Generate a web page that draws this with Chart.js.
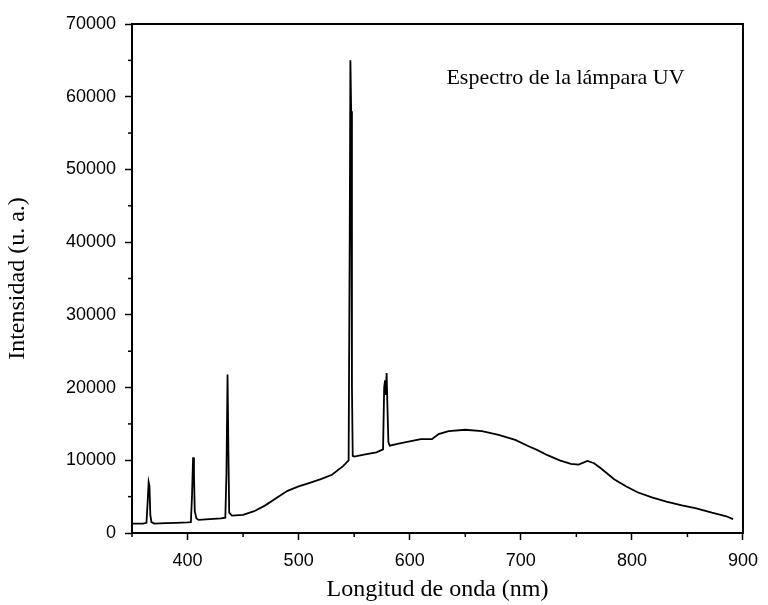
<!DOCTYPE html>
<html>
<head>
<meta charset="utf-8">
<script src="https://cdn.jsdelivr.net/npm/chart.js@4/dist/chart.umd.min.js"></script>
<style>
  html, body { margin: 0; padding: 0; background: #fff; }
  #wrap { width: 768px; height: 605px; }
</style>
</head>
<body>
<div id="wrap"><canvas id="grafico"></canvas></div>
<script>
// Datos del espectro
const longitudes = [
  350, 355, 360, 363, 364, 365, 365.7, 366.5, 367.5, 370, 380, 390, 400, 403,
  404, 405, 405.8, 406.5, 408, 410, 420, 430, 434, 435, 436, 436.8, 437.5, 440,
  450, 460, 470, 480, 490, 500, 510, 520, 530, 540, 545, 546, 546.6, 547.3, 548,
  548.7, 550, 560, 570, 576, 577, 577.8, 578.5, 579.2, 580, 580.8, 582, 590, 600,
  610, 620, 626, 635, 650, 665, 680, 695, 706, 715, 724, 735, 745, 752, 760, 766,
  772, 784, 795, 805, 818, 831, 845, 858, 872, 885, 891
];
const intensidades = [
  1300, 1300, 1300, 1400, 4000, 7000, 6500, 2500, 1500, 1300, 1350, 1400, 1450, 1500,
  5000, 10400, 8000, 3000, 2000, 1800, 1900, 2000, 2100, 8000, 21800, 11000, 2800, 2400,
  2500, 3000, 3800, 4800, 5800, 6400, 6900, 7400, 8000, 9200, 10000, 41000, 65000, 58000, 20000,
  10600, 10500, 10800, 11100, 11500, 20000, 21000, 19000, 22000, 17000, 12500, 12000, 12300, 12600,
  12900, 12900, 13600, 14000, 14200, 14000, 13500, 12800, 12000, 11400, 10700, 10000, 9500, 9400, 9900, 9600,
  8900, 7400, 6400, 5600, 4900, 4300, 3800, 3400, 2800, 2300, 1900
];

const etiquetaX = 'Longitud de onda (nm)';
const etiquetaY = 'Intensidad (u. a.)';
const textoNota = 'Espectro de la lámpara UV';
const notaX = 633;
const notaY = 62500;

const puntos = longitudes.map((x, i) => ({ x: x, y: intensidades[i] }));

// Marco, ticks menores y nota
const plugMarco = {
  id: 'marco',
  afterDraw(chart) {
    const c = chart.ctx;
    const a = chart.chartArea;
    c.save();
    c.strokeStyle = '#000';
    c.lineWidth = 2;
    c.strokeRect(a.left, a.top, a.right - a.left, a.bottom - a.top);

    // ticks menores
    c.lineWidth = 1.5;
    const sx = chart.scales.x;
    sx.ticks.forEach(t => {
      if (t.value % 100 !== 0) {
        const px = sx.getPixelForValue(t.value);
        c.beginPath();
        c.moveTo(px, a.bottom);
        c.lineTo(px, a.bottom + 4);
        c.stroke();
      }
    });
    const sy = chart.scales.y;
    sy.ticks.forEach(t => {
      if (t.value % 10000 !== 0) {
        const py = sy.getPixelForValue(t.value);
        c.beginPath();
        c.moveTo(a.left, py);
        c.lineTo(a.left - 4, py);
        c.stroke();
      }
    });

    // nota
    c.fillStyle = '#000';
    c.font = '22px "Liberation Serif", "DejaVu Serif", serif';
    c.textAlign = 'left';
    c.textBaseline = 'middle';
    c.fillText(textoNota, sx.getPixelForValue(notaX), sy.getPixelForValue(notaY));
    c.restore();
  }
};

new Chart(document.getElementById('grafico'), {
  type: 'line',
  data: {
    datasets: [{
      data: puntos,
      borderColor: '#000',
      borderWidth: 1.8,
      pointRadius: 0,
      tension: 0,
      fill: false
    }]
  },
  options: {
    responsive: true,
    maintainAspectRatio: false,
    animation: false,
    layout: { padding: { top: 24, right: 19, left: 0, bottom: 0 } },
    plugins: {
      legend: { display: false },
      tooltip: { enabled: false }
    },
    scales: {
      x: {
        type: 'linear',
        min: 350,
        max: 900,
        afterFit: s => { s.height = 72; },
        border: { display: true, color: '#000', width: 2 },
        grid: {
          drawOnChartArea: false,
          tickLength: 7,
          tickWidth: 1.5,
          color: ctx => (ctx.tick && ctx.tick.value % 100 === 0) ? '#000' : 'rgba(0,0,0,0)'
        },
        ticks: {
          stepSize: 50,
          autoSkip: false,
          maxRotation: 0,
          padding: 10,
          color: '#000',
          font: { family: '"Liberation Sans", Arial, sans-serif', size: 18 },
          callback: v => (v % 100 === 0 ? v : '')
        },
        title: {
          display: true,
          text: etiquetaX,
          color: '#000',
          font: { family: '"Liberation Serif", "Times New Roman", serif', size: 24 },
          padding: { top: 4, bottom: 1 }
        }
      },
      y: {
        min: 0,
        max: 70000,
        afterFit: s => { s.width = 132; },
        border: { display: true, color: '#000', width: 2 },
        grid: {
          drawOnChartArea: false,
          tickLength: 7,
          tickWidth: 1.5,
          color: ctx => (ctx.tick && ctx.tick.value % 10000 === 0) ? '#000' : 'rgba(0,0,0,0)'
        },
        ticks: {
          stepSize: 5000,
          autoSkip: false,
          padding: 9,
          color: '#000',
          font: { family: '"Liberation Sans", Arial, sans-serif', size: 18 },
          callback: v => (v % 10000 === 0 ? v : '')
        },
        title: {
          display: true,
          text: etiquetaY,
          color: '#000',
          font: { family: '"Liberation Serif", "Times New Roman", serif', size: 24 },
          padding: { top: 3, bottom: 0 }
        }
      }
    }
  },
  plugins: [plugMarco]
});
</script>
</body>
</html>
